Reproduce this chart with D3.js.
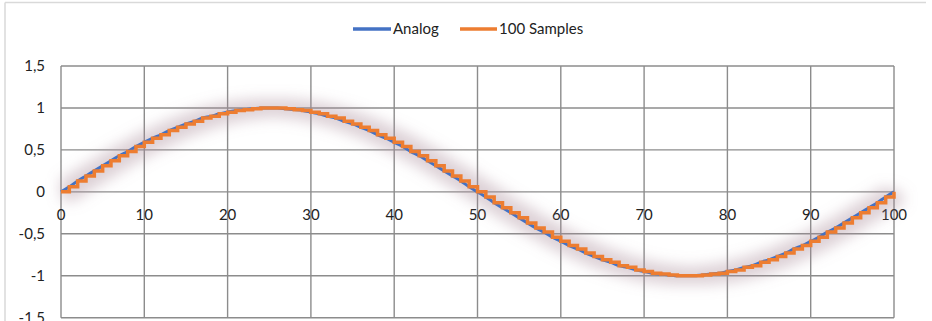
<!DOCTYPE html>
<html><head><meta charset="utf-8">
<script src="https://cdn.jsdelivr.net/npm/d3@7"></script>
<style>body{margin:0;background:#fff;}svg{display:block;}</style>
</head><body>
<svg id="c" width="932" height="321"></svg>
<script>
// x positions (sample index)
const xValues = d3.range(0, 101);
// analog signal values
const analog = [0,0.06,0.13,0.19,0.25,0.31,0.37,0.43,0.48,0.54,0.59,0.64,0.68,0.73,0.77,0.81,0.84,0.88,0.90,0.93,0.95,0.97,0.98,0.99,1.00,1.00,
1.00,0.99,0.98,0.97,0.95,0.93,0.90,0.88,0.84,0.81,0.77,0.73,0.68,0.64,0.59,0.54,0.48,0.43,0.37,0.31,0.25,0.19,0.13,0.06,0,
-0.06,-0.13,-0.19,-0.25,-0.31,-0.37,-0.43,-0.48,-0.54,-0.59,-0.64,-0.68,-0.73,-0.77,-0.81,-0.84,-0.88,-0.90,-0.93,-0.95,-0.97,-0.98,-0.99,-1.00,-1.00,
-1.00,-0.99,-0.98,-0.97,-0.95,-0.93,-0.90,-0.88,-0.84,-0.81,-0.77,-0.73,-0.68,-0.64,-0.59,-0.54,-0.48,-0.43,-0.37,-0.31,-0.25,-0.19,-0.13,-0.06,0];
// 100 samples (held values)
const samples = [0,0.06,0.13,0.19,0.25,0.31,0.37,0.43,0.48,0.54,0.59,0.64,0.68,0.73,0.77,0.81,0.84,0.88,0.90,0.93,0.95,0.97,0.98,0.99,1.00,1.00,
1.00,0.99,0.98,0.97,0.95,0.93,0.90,0.88,0.84,0.81,0.77,0.73,0.68,0.64,0.59,0.54,0.48,0.43,0.37,0.31,0.25,0.19,0.13,0.06,0,
-0.06,-0.13,-0.19,-0.25,-0.31,-0.37,-0.43,-0.48,-0.54,-0.59,-0.64,-0.68,-0.73,-0.77,-0.81,-0.84,-0.88,-0.90,-0.93,-0.95,-0.97,-0.98,-0.99,-1.00,-1.00,
-1.00,-0.99,-0.98,-0.97,-0.95,-0.93,-0.90,-0.88,-0.84,-0.81,-0.77,-0.73,-0.68,-0.64,-0.59,-0.54,-0.48,-0.43,-0.37,-0.31,-0.25,-0.19,-0.13,-0.06,0];
const xTicks = [0,10,20,30,40,50,60,70,80,90,100];
const yTicks = [-1.5,-1,-0.5,0,0.5,1,1.5];
const seriesNames = ["Analog","100 Samples"];
const colors = ["#4472C4","#ED7D31"];

const svg = d3.select("#c");
const font = "Lato, 'Open Sans', sans-serif";
const x = d3.scaleLinear().domain([0,100]).range([61,894]);
const y = d3.scaleLinear().domain([-1.5,1.5]).range([317.7,66]);
const fmt = v => String(v).replace(".", ",");

// outer chart border (partial)
svg.append("line").attr("x1",5).attr("x2",926).attr("y1",2.5).attr("y2",2.5).attr("stroke","#d9d9d9").attr("stroke-width",1.5);
svg.append("line").attr("x1",5).attr("x2",5).attr("y1",2.5).attr("y2",321).attr("stroke","#d9d9d9").attr("stroke-width",1.5);

const defs = svg.append("defs");
defs.append("filter").attr("id","glow").attr("x","-10%").attr("y","-40%").attr("width","120%").attr("height","180%")
  .append("feGaussianBlur").attr("stdDeviation",7);

// grid
const grid = svg.append("g");
grid.selectAll(".gy").data(yTicks).join("line")
  .attr("x1",x(0)).attr("x2",x(100)).attr("y1",d=>y(d)).attr("y2",d=>y(d))
  .attr("stroke","#8c8c8c").attr("stroke-width",1.4);
grid.selectAll(".gx").data(xTicks).join("line")
  .attr("x1",d=>x(d)).attr("x2",d=>x(d)).attr("y1",y(1.5)).attr("y2",y(-1.5))
  .attr("stroke","#8c8c8c").attr("stroke-width",1.4);

// y labels
svg.append("g").selectAll("text").data(yTicks).join("text")
  .attr("x",45).attr("y",d=>y(d)).attr("dy","0.35em").attr("text-anchor","end")
  .attr("font-family",font).attr("font-size",15).attr("fill","#222").text(fmt);
// x labels (at y=0)
svg.append("g").selectAll("text").data(xTicks).join("text")
  .attr("x",d=>x(d)).attr("y",y(0)+28.5).attr("text-anchor","middle")
  .attr("font-family",font).attr("font-size",15).attr("fill","#222").text(fmt);

const analogLine = d3.line().x((d,i)=>x(xValues[i])).y(d=>y(d)).curve(d3.curveMonotoneX);
const stepLine = d3.line().x((d,i)=>x(xValues[i])).y(d=>y(d)).curve(d3.curveStepAfter);

// soft shadow / glow
svg.append("path").attr("d",stepLine(samples)).attr("fill","none")
  .attr("stroke","#a88a98").attr("stroke-opacity",0.4).attr("stroke-width",18).attr("filter","url(#glow)");

svg.append("path").attr("d",analogLine(analog)).attr("fill","none")
  .attr("stroke",colors[0]).attr("stroke-width",3);
svg.append("path").attr("d",stepLine(samples)).attr("fill","none")
  .attr("stroke",colors[1]).attr("stroke-width",3.5).attr("stroke-linejoin","miter");

// legend
const leg = svg.append("g");
const legItems = [{x1:353,x2:391,tx:393},{x1:460,x2:497,tx:499}];
legItems.forEach((p,i)=>{
  leg.append("line").attr("x1",p.x1).attr("x2",p.x2).attr("y1",29).attr("y2",29)
    .attr("stroke",colors[i]).attr("stroke-width",3.5);
  leg.append("text").attr("x",p.tx).attr("y",29).attr("dy","0.35em")
    .attr("font-family",font).attr("font-size",15).attr("fill","#222").text(seriesNames[i]);
});
</script>
</body></html>
